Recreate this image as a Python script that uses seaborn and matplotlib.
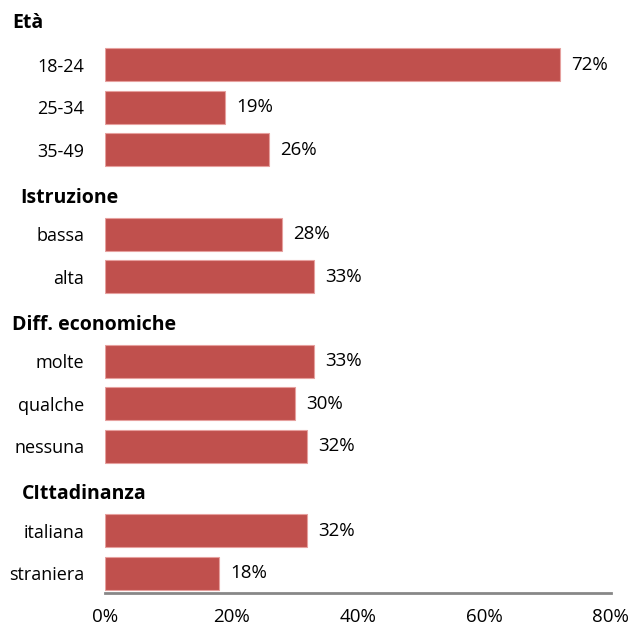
import seaborn as sns
import pandas as pd
import matplotlib.pyplot as plt
import matplotlib.transforms as mtransforms

# Dati
gruppi = ["Età", "Istruzione", "Diff. economiche", "CIttadinanza"]
categorie = [
    ["18-24", "25-34", "35-49"],
    ["bassa", "alta"],
    ["molte", "qualche", "nessuna"],
    ["italiana", "straniera"],
]
valori = [
    [72, 19, 26],
    [28, 33],
    [33, 30, 32],
    [32, 18],
]
xticks = [0, 20, 40, 60, 80]

# ordine delle righe: intestazione del gruppo (senza barra) seguita dalle categorie
ordine = []
righe = []
for g, cats, vals in zip(gruppi, categorie, valori):
    ordine.append(g)
    for c, v in zip(cats, vals):
        ordine.append(c)
        righe.append({"Categoria": c, "Valore": v})
df = pd.DataFrame(righe)

sns.set_style("white")
plt.rcParams["font.family"] = ["Open Sans", "DejaVu Sans"]
plt.rcParams["text.color"] = "black"
plt.rcParams["xtick.labelcolor"] = "black"
plt.rcParams["ytick.labelcolor"] = "black"

fig = plt.figure(figsize=(6.29, 6.28), dpi=100)
ax = fig.add_axes([0.167, 0.0557, 0.804, 0.942])

sns.barplot(data=df, x="Valore", y="Categoria", order=ordine, orient="h",
            color="#C0504D", saturation=1, width=0.78,
            edgecolor="#E6A09E", linewidth=0.8, ax=ax)

ax.set_xlim(0, 80)
ax.set_ylim(len(ordine) - 0.53, -0.5)
ax.set_xticks(xticks)
ax.set_xticklabels([f"{t}%" for t in xticks], fontsize=13.5)
ax.set_xlabel("")
ax.set_ylabel("")

# etichette categorie (le intestazioni vanno a parte)
ax.set_yticks(range(len(ordine)))
ax.set_yticklabels(["" if o in gruppi else o for o in ordine], fontsize=13)
ax.tick_params(axis="y", length=0, pad=15)
ax.tick_params(axis="x", length=5, width=2, color="#878787", direction="out", pad=6)

for c in ax.containers:
    ax.bar_label(c, labels=[f"{v:.0f}%" for v in c.datavalues], padding=8, fontsize=13.5)

for s in ["top", "right", "left"]:
    ax.spines[s].set_visible(False)
ax.spines["bottom"].set_color("#878787")
ax.spines["bottom"].set_linewidth(2)

# intestazioni dei gruppi
trans = mtransforms.blended_transform_factory(fig.transFigure, ax.transData)
xpos = [12, 20, 12, 22]
for g, x in zip(gruppi, xpos):
    i = ordine.index(g)
    ax.text(x / 629, i + (0 if i == 0 else 0.14), g, transform=trans,
            fontsize=14, fontweight="bold", ha="left", va="center")

plt.savefig("out.png", dpi=100)
